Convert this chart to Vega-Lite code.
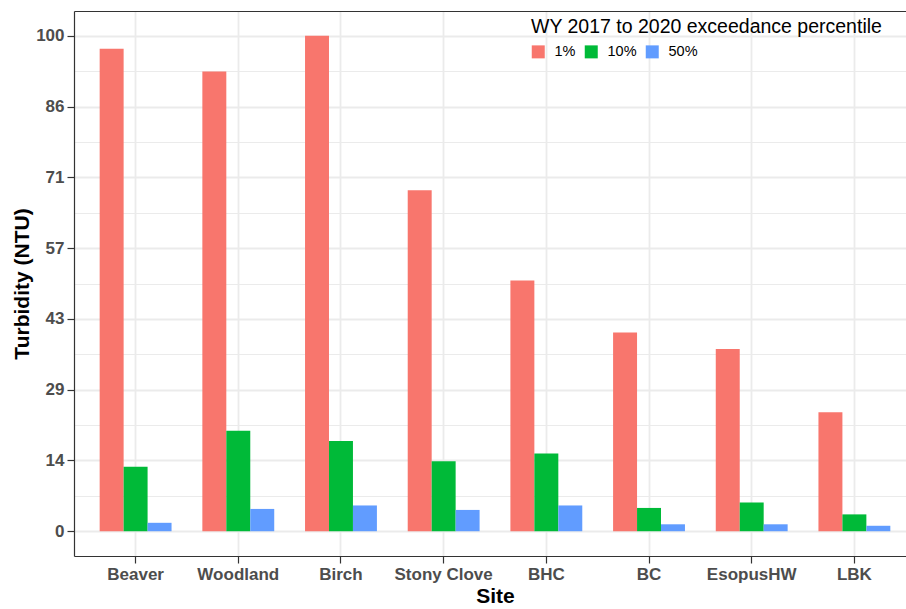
{
  "$schema": "https://vega.github.io/schema/vega-lite/v6.json",
  "autosize": "none",
  "padding": {"left": 74, "top": 11, "right": 0, "bottom": 53},
  "width": 832,
  "height": 545,
  "background": "white",
  "config": {
    "font": "Liberation Sans",
    "view": {"stroke": null},
    "axis": {
      "labelFont": "Liberation Sans",
      "titleFont": "Liberation Sans",
      "gridColor": "#EBEBEB",
      "gridWidth": 1.8,
      "tickColor": "#333333",
      "domainColor": "#333333",
      "domainWidth": 1.2,
      "tickWidth": 1.2
    }
  },
  "data": {
    "values": [
      {"site": "Beaver", "pct": "1%", "value": 97.4},
      {"site": "Beaver", "pct": "10%", "value": 13.0},
      {"site": "Beaver", "pct": "50%", "value": 1.7},
      {"site": "Woodland", "pct": "1%", "value": 92.8},
      {"site": "Woodland", "pct": "10%", "value": 20.3},
      {"site": "Woodland", "pct": "50%", "value": 4.5},
      {"site": "Birch", "pct": "1%", "value": 100.0},
      {"site": "Birch", "pct": "10%", "value": 18.2},
      {"site": "Birch", "pct": "50%", "value": 5.2},
      {"site": "Stony Clove", "pct": "1%", "value": 68.8},
      {"site": "Stony Clove", "pct": "10%", "value": 14.1},
      {"site": "Stony Clove", "pct": "50%", "value": 4.3},
      {"site": "BHC", "pct": "1%", "value": 50.6},
      {"site": "BHC", "pct": "10%", "value": 15.7},
      {"site": "BHC", "pct": "50%", "value": 5.2},
      {"site": "BC", "pct": "1%", "value": 40.1},
      {"site": "BC", "pct": "10%", "value": 4.7},
      {"site": "BC", "pct": "50%", "value": 1.4},
      {"site": "EsopusHW", "pct": "1%", "value": 36.8},
      {"site": "EsopusHW", "pct": "10%", "value": 5.8},
      {"site": "EsopusHW", "pct": "50%", "value": 1.4},
      {"site": "LBK", "pct": "1%", "value": 24.0},
      {"site": "LBK", "pct": "10%", "value": 3.4},
      {"site": "LBK", "pct": "50%", "value": 1.1}
    ]
  },
  "resolve": {"axis": {"x": "independent", "y": "independent"}},
  "layer": [
    {
      "mark": {"type": "bar", "opacity": 0},
      "encoding": {
        "x": {
          "field": "site", "type": "nominal", "sort": null,
          "scale": {"range": [0, 842], "paddingInner": 0.3, "paddingOuter": 0.25},
          "axis": {"orient": "top", "labels": false, "ticks": false, "grid": false, "domain": true, "title": null}
        },
        "y": {
          "field": "value", "type": "quantitative",
          "scale": {"domain": [-5, 105], "nice": false, "zero": false},
          "axis": {
            "orient": "left", "labels": false, "ticks": false, "domain": false, "title": null,
            "grid": true, "gridWidth": 1.0,
            "values": [7.142857, 21.428571, 35.714286, 50, 64.285714, 78.571429, 92.857143]
          }
        }
      }
    },
    {
      "mark": {"type": "bar"},
      "encoding": {
        "x": {
          "field": "site", "type": "nominal", "sort": null,
          "axis": {
            "orient": "bottom", "title": "Site", "bandPosition": 0.5,
            "labelAngle": 0, "labelFontSize": 17, "labelFontWeight": "bold", "labelColor": "#4D4D4D",
            "labelPadding": 3, "tickSize": 7, "grid": true,
            "titleFontSize": 21, "titleFontWeight": "bold", "titleColor": "#000000", "titlePadding": 3
          }
        },
        "xOffset": {"field": "pct", "type": "nominal", "sort": ["1%", "10%", "50%"], "scale": {"paddingInner": 0, "paddingOuter": 0}},
        "y": {
          "field": "value", "type": "quantitative",
          "axis": {
            "orient": "left", "title": "Turbidity (NTU)",
            "values": [0, 14.285714, 28.571429, 42.857143, 57.142857, 71.428571, 85.714286, 100],
            "format": ".0f",
            "labelFontSize": 17, "labelFontWeight": "bold", "labelColor": "#4D4D4D",
            "labelPadding": 3, "tickSize": 7, "grid": true, "domain": true,
            "titleFontSize": 21, "titleFontWeight": "bold", "titleColor": "#000000", "titlePadding": 3
          }
        },
        "y2": {"datum": 0},
        "color": {
          "field": "pct", "type": "nominal", "sort": ["1%", "10%", "50%"],
          "scale": {"domain": ["1%", "10%", "50%"], "range": ["#F8766D", "#00BA38", "#619CFF"]},
          "legend": {
            "title": "WY 2017 to 2020 exceedance percentile",
            "orient": "none", "legendX": 457, "legendY": 7,
            "direction": "horizontal",
            "padding": 0,
            "titleFont": "Liberation Sans", "titleFontSize": 19.5, "titleFontWeight": "normal", "titleColor": "#000000",
            "titlePadding": 7, "titleLimit": 600,
            "labelFont": "Liberation Sans", "labelFontSize": 14.5, "labelColor": "#000000",
            "symbolType": "square", "symbolSize": 169, "symbolStrokeWidth": 0, "symbolOpacity": 1,
            "labelOffset": 9, "columnPadding": 8
          }
        }
      }
    }
  ]
}
